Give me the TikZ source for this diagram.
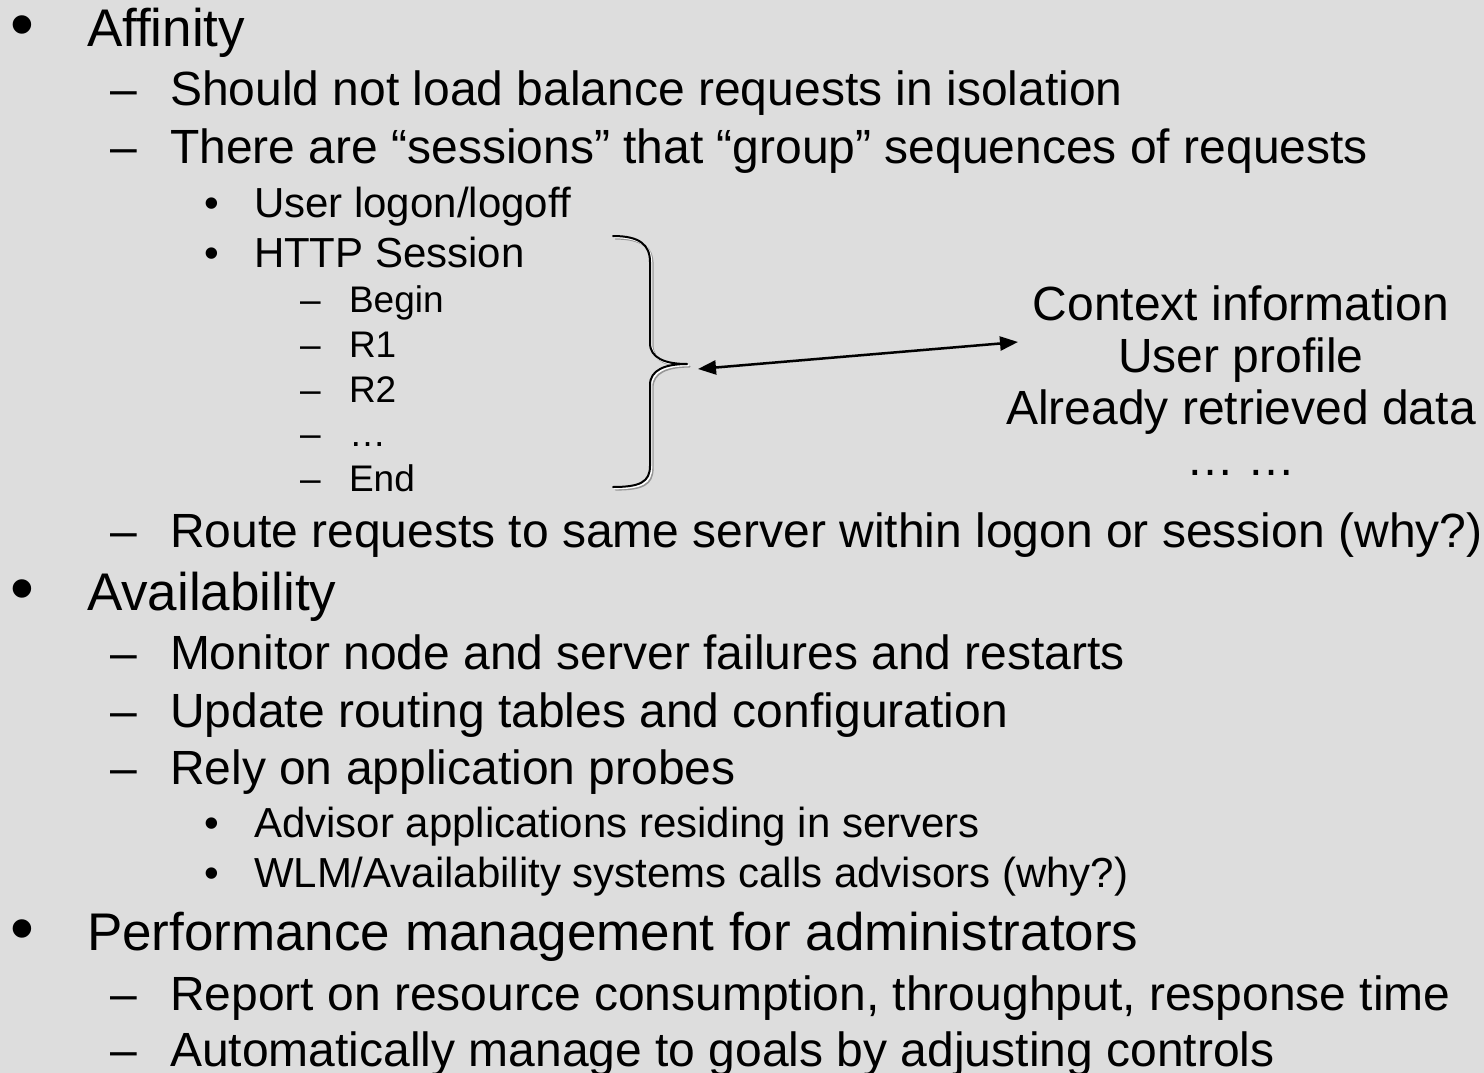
\documentclass[tikz,border=0pt]{standalone}
\usepackage{fontspec}
\setmainfont{Liberation Sans}
\usetikzlibrary{arrows.meta}

\definecolor{slidebg}{RGB}{221,221,221}
\definecolor{shadowgray}{RGB}{150,150,150}

\tikzset{
  txt/.style={anchor=base west, inner sep=0pt, outer sep=0pt, text=black},
  lvla/.style={txt, font=\fontsize{53}{60}\selectfont},
  lvlb/.style={txt, font=\fontsize{48}{54}\selectfont},
  lvlc/.style={txt, font=\fontsize{42}{48}\selectfont},
  lvld/.style={txt, font=\fontsize{37}{42}\selectfont},
  bigdot/.style={txt, font=\fontsize{68}{70}\selectfont},
  ctx/.style={anchor=base, inner sep=0pt, outer sep=0pt, font=\fontsize{48}{54}\selectfont},
  strokeline/.style={line width=2pt, line cap=round, line join=round},
  shadowdark/.style={strokeline, shadowgray, shift={(2.6,2.6)}},
  shadowlight/.style={strokeline, white, shift={(1.3,1.3)}},
  tipboth/.style={{Triangle[length=18pt,width=14pt]}-{Triangle[length=18pt,width=14pt]}}
}

\begin{document}
\begin{tikzpicture}[x=1pt,y=-1pt]
  % slide background
  \fill[slidebg] (0,0) rectangle (1484,1073);
  \useasboundingbox (0,0) rectangle (1484,1073);

  % --- Affinity ---
  \node[bigdot] (b1) at (10,48) {•};
  \node[lvla] (t1) at (87,47) {Affinity};
  \node[lvlb] (d11) at (110,106) {–};
  \node[lvlb] (t11) at (170,106) {Should not load balance requests in isolation};
  \node[lvlb] (d12) at (110,163) {–};
  \node[lvlb] (t12) at (170,163) {There are “sessions” that “group” sequences of requests};
  \node[lvlc] (b121) at (204,217) {•};
  \node[lvlc] (t121) at (254,217) {User logon/logoff};
  \node[lvlc] (b122) at (204,267) {•};
  \node[lvlc] (t122) at (254,267) {HTTP Session};
  \node[lvld] (d1) at (300,312) {–};
  \node[lvld] (s1) at (349,312) {Begin};
  \node[lvld] (d2) at (300,357) {–};
  \node[lvld] (s2) at (349,357) {R1};
  \node[lvld] (d3) at (300,402) {–};
  \node[lvld] (s3) at (349,402) {R2};
  \node[lvld] (d4) at (300,446) {–};
  \node[lvld] (s4) at (349,446) {…};
  \node[lvld] (d5) at (300,491) {–};
  \node[lvld] (s5) at (349,491) {End};
  \node[lvlb] (d13) at (110,547) {–};
  \node[lvlb] (t13) at (170,547) {Route requests to same server within logon or session (why?)};

  % --- Availability ---
  \node[bigdot] (b2) at (10,611) {•};
  \node[lvla] (t2) at (87,610) {Availability};
  \node[lvlb] (d21) at (110,669) {–};
  \node[lvlb] (t21) at (170,669) {Monitor node and server failures and restarts};
  \node[lvlb] (d22) at (110,727) {–};
  \node[lvlb] (t22) at (170,727) {Update routing tables and configuration};
  \node[lvlb] (d23) at (110,784) {–};
  \node[lvlb] (t23) at (170,784) {Rely on application probes};
  \node[lvlc] (b231) at (204,837) {•};
  \node[lvlc] (t231) at (254,837) {Advisor applications residing in servers};
  \node[lvlc] (b232) at (204,887) {•};
  \node[lvlc] (t232) at (254,887) {WLM/Availability systems calls advisors (why?)};

  % --- Performance management ---
  \node[bigdot] (b3) at (10,951) {•};
  \node[lvla] (t3) at (87,950) {Performance management for administrators};
  \node[lvlb] (d31) at (110,1010) {–};
  \node[lvlb] (t31) at (170,1010) {Report on resource consumption, throughput, response time};
  \node[lvlb] (d32) at (110,1066) {–};
  \node[lvlb] (t32) at (170,1066) {Automatically manage to goals by adjusting controls};

  % --- session context ---
  \node[ctx] (c1) at (1241,320) {Context information};
  \node[ctx] (c2) at (1241,372) {User profile};
  \node[ctx] (c3) at (1241,424) {Already retrieved data};
  \node[ctx] (c4) at (1241,475) {… …};

  % brace grouping the HTTP session requests
  \def\bracepath{(613,236) .. controls (640,236) and (650,245) .. (650,262)
    -- (650,343) .. controls (650,358) and (665,364) .. (687,364)
    .. controls (665,364) and (650,370) .. (650,385)
    -- (650,466) .. controls (650,482) and (640,487) .. (613,487)}
  \draw[shadowdark] \bracepath;
  \draw[shadowlight] \bracepath;
  \draw[strokeline, black] \bracepath;

  % double arrow between the session and its context
  \coordinate (arrL) at (698,369);
  \coordinate (arrR) at (1018,342);
  \draw[shadowdark, tipboth, line width=2.5pt] (arrL) -- (arrR);
  \draw[shadowlight, tipboth, line width=2.5pt] (arrL) -- (arrR);
  \draw[strokeline, black, tipboth, line width=2.5pt] (arrL) -- (arrR);
\end{tikzpicture}
\end{document}
